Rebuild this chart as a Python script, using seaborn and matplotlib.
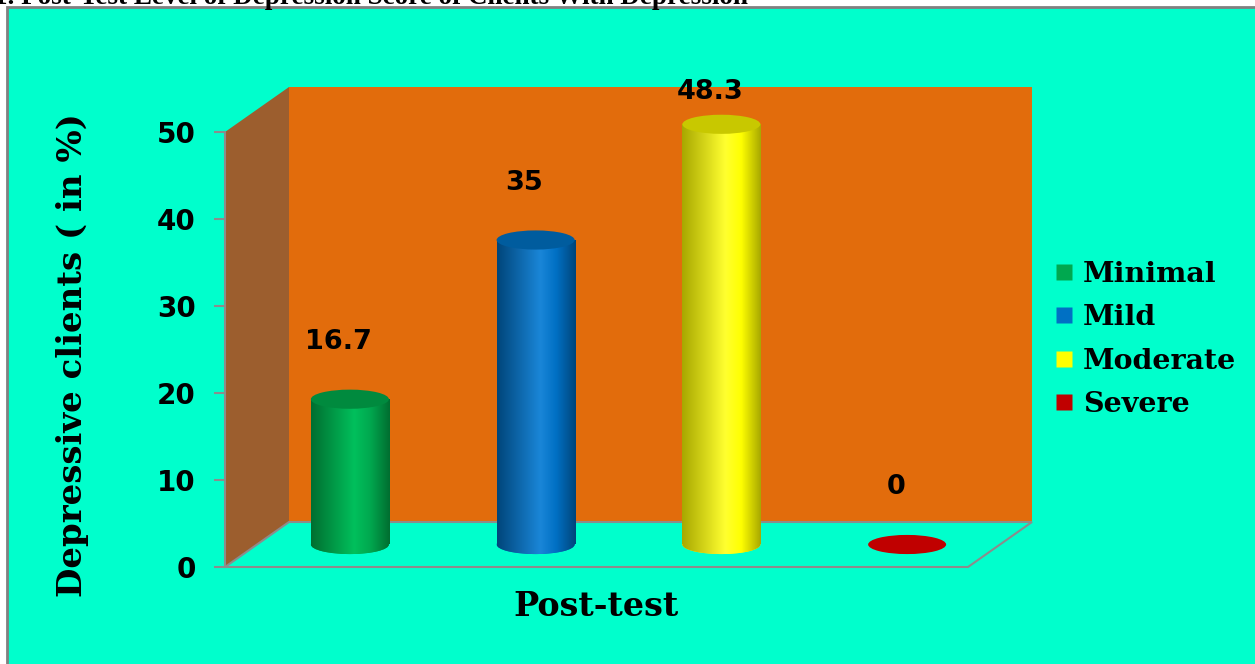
import numpy as np
import matplotlib
matplotlib.use("Agg")
import matplotlib.pyplot as plt
from matplotlib.patches import Polygon, Ellipse, Rectangle
from matplotlib.colors import LinearSegmentedColormap
from matplotlib.lines import Line2D
import seaborn as sns

# ---- data ----
categories = ["Minimal", "Mild", "Moderate", "Severe"]
values = [16.7, 35, 48.3, 0]
y_ticks = [0, 10, 20, 30, 40, 50]
group_label = "Post-test"
y_label = "Depressive clients ( in %)"
title = "1. Post-Test Level of Depression Score of Clients With Depression"

# ---- styling ----
body_colors = {"Minimal": "#00A84F", "Mild": "#0070C4", "Moderate": "#FFFF00", "Severe": "#C00000"}
dark_colors = {"Minimal": "#006E30", "Mild": "#00457A", "Moderate": "#A8A800", "Severe": "#8A0000"}
light_colors = {"Minimal": "#00C05C", "Mild": "#1A86D8", "Moderate": "#FFFF30", "Severe": "#E00000"}
top_colors = {"Minimal": "#008A3E", "Mild": "#005C9E", "Moderate": "#C8C800", "Severe": "#C00000"}
panel_bg = "#00FFCC"
back_wall = "#E26C0C"
side_wall = "#9C5E2E"
edge_gray = "#8C8C8C"

W, H = 1255, 664
sns.set_theme(style="white")
plt.rcParams["font.family"] = ["DejaVu Sans"]

fig = plt.figure(figsize=(W / 100, H / 100), dpi=100, facecolor="white")


def fx(px):
    return px / W


def fy(py):
    return 1 - py / H


# panel behind the chart
fig.patches.append(Rectangle((fx(7), fy(H + 10)), fx(W + 10), fy(7) - fy(H + 10),
                             transform=fig.transFigure, facecolor=panel_bg,
                             edgecolor="#808080", linewidth=2, zorder=-5))

# heading at the very top, running off the upper edge
fig.text(fx(-6), fy(4), title, family="Liberation Serif", fontweight="bold",
         fontsize=19.5, color="black", ha="left", va="baseline")

# front plane of the 3D frame
left_px, right_px, top_px, bot_px = 225, 968, 132, 567
rect = [fx(left_px), fy(bot_px), fx(right_px - left_px), (bot_px - top_px) / H]
ax = fig.add_axes(rect)
ax.set_facecolor("none")
ax.set_xlim(-0.5, len(categories) - 0.5)
ax.set_ylim(0, 50)

n = len(categories)
dxd = 64 / (right_px - left_px) * n   # depth offset in category units
dyd = 45 / (bot_px - top_px) * 50     # depth offset in value units
x0, x1 = -0.5, n - 0.5
ymax = y_ticks[-1]

ax.add_patch(Polygon([(x0 + dxd, dyd), (x1 + dxd, dyd), (x1 + dxd, ymax + dyd), (x0 + dxd, ymax + dyd)],
                     closed=True, facecolor=back_wall, edgecolor="none", clip_on=False, zorder=0))
ax.add_patch(Polygon([(x0, 0), (x0 + dxd, dyd), (x0 + dxd, ymax + dyd), (x0, ymax)],
                     closed=True, facecolor=side_wall, edgecolor="none", clip_on=False, zorder=0))
ax.add_patch(Polygon([(x0, 0), (x1, 0), (x1 + dxd, dyd), (x0 + dxd, dyd)],
                     closed=True, facecolor=panel_bg, edgecolor=edge_gray, linewidth=1.5,
                     clip_on=False, zorder=0.5))

for s in ["top", "right", "bottom"]:
    ax.spines[s].set_visible(False)
ax.spines["left"].set_color(edge_gray)
ax.spines["left"].set_linewidth(1.5)
ax.set_yticks(y_ticks)
ax.set_yticklabels([str(t) for t in y_ticks], fontsize=20, fontweight="bold", color="black")
ax.tick_params(axis="y", which="both", left=True, length=8, width=1.5, color=edge_gray, pad=13)
ax.set_xticks([])

# bar plane, half a depth step behind the front plane
axb = fig.add_axes(rect)
axb.set_facecolor("none")
axb.axis("off")
df = {"level": categories, "pct": values}
sns.barplot(x="level", y="pct", hue="level", data=df, order=categories,
            palette=body_colors, width=0.42, legend=False, ax=axb, saturation=1,
            linewidth=0)

ell_h = 2.2
grad = np.linspace(0, 1, 256).reshape(1, -1)
for cat, val, bar in zip(categories, values, axb.patches):
    bx, bw, bh = bar.get_x(), bar.get_width(), bar.get_height()
    cx = bx + bw / 2
    bar.set_clip_on(False)
    cmap = LinearSegmentedColormap.from_list(
        cat, [(0, dark_colors[cat]), (0.55, light_colors[cat]), (0.75, body_colors[cat]), (1, dark_colors[cat])])
    if bh > 0:
        base = Ellipse((cx, 0), bw, ell_h, facecolor=body_colors[cat], edgecolor="none",
                       zorder=1.5, clip_on=False)
        axb.add_patch(base)
        im = axb.imshow(grad, cmap=cmap, extent=(bx, bx + bw, -ell_h, 0), aspect="auto", zorder=1.6)
        im.set_clip_box(None)
        im.set_clip_path(base)
        im2 = axb.imshow(grad, cmap=cmap, extent=(bx, bx + bw, 0, bh), aspect="auto", zorder=2)
        im2.set_clip_box(None)
        im2.set_clip_path(bar)
        axb.add_patch(Ellipse((cx, bh), bw, ell_h, facecolor=top_colors[cat], edgecolor="none",
                              zorder=3, clip_on=False))
    else:
        bar.set_visible(False)
        axb.add_patch(Ellipse((cx, 0), bw, ell_h, facecolor=body_colors[cat], edgecolor="none",
                              zorder=3, clip_on=False))
    axb.text(cx - 0.06, min(val + 6.6, 52), f"{val:g}", ha="center", va="center",
             fontsize=19.5, fontweight="bold", color="black", zorder=4)
axb.set_xlim(x0 - dxd / 2, x1 - dxd / 2)
axb.set_ylim(-dyd / 2, ymax - dyd / 2)

# axis titles
fig.text(fx(73), fy(355), y_label, rotation=90, ha="center", va="center",
         family="DejaVu Serif", fontweight="bold", fontsize=24.5, color="black")
fig.text(fx(596), fy(606), group_label, ha="center", va="center",
         family="DejaVu Serif", fontweight="bold", fontsize=24, color="black")

# legend
handles = [Line2D([], [], marker="s", linestyle="none", markersize=12,
                  markerfacecolor=body_colors[c], markeredgecolor="none") for c in categories]
fig.legend(handles, categories, loc="upper left", bbox_to_anchor=(fx(1040), fy(247)),
           frameon=False, prop={"family": "DejaVu Serif", "weight": "bold", "size": 20.5},
           labelcolor="black", handlelength=0.7, handletextpad=0.3, labelspacing=0.57, borderpad=0)

fig.savefig("out.png", dpi=100, facecolor="white")
